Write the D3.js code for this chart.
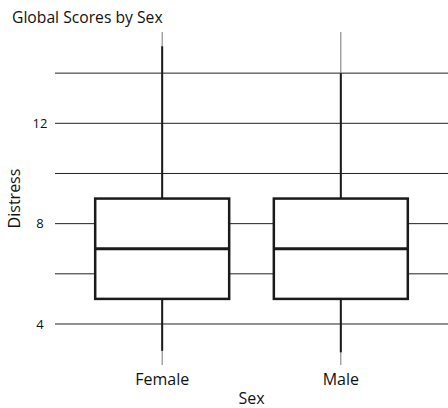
<!DOCTYPE html>
<html>
<head>
<meta charset="utf-8">
<script src="https://cdn.jsdelivr.net/npm/d3@7"></script>
<style>
  html, body { margin: 0; padding: 0; background: #fff; }
  svg { display: block; }
  text { font-family: "Open Sans", "Noto Sans", sans-serif; fill: #111; }
</style>
</head>
<body>
<svg id="chart" width="448" height="408"></svg>
<script>
// Distress scores by sex: five-number summaries for each group
const categories = ["Female", "Male"];
const whiskerLow  = [2.93, 2.87];
const quartile1   = [5, 5];
const medians     = [7, 7];
const quartile3   = [9, 9];
const whiskerHigh = [15.07, 14];
const yTicks      = [4, 8, 12];
const yGrid       = [4, 6, 8, 10, 12, 14];

const W = 448, H = 408;
const plot = { left: 55, right: 448, top: 32, bottom: 365 };

const svg = d3.select("#chart");

const x = d3.scalePoint()
  .domain(categories)
  .range([plot.left, plot.right])
  .padding(0.6);

const y = d3.scaleLinear()
  .domain([2.365, 15.64])
  .range([plot.bottom, plot.top]);

const boxW = x.step() * 0.75;

// horizontal grid lines
svg.append("g")
  .selectAll("line")
  .data(yGrid)
  .join("line")
  .attr("x1", plot.left)
  .attr("x2", plot.right)
  .attr("y1", d => y(d))
  .attr("y2", d => y(d))
  .attr("stroke", "#222")
  .attr("stroke-width", 1);

// vertical guide lines through each category
svg.append("g")
  .selectAll("line")
  .data(categories)
  .join("line")
  .attr("x1", d => x(d))
  .attr("x2", d => x(d))
  .attr("y1", plot.top)
  .attr("y2", plot.bottom)
  .attr("stroke", "#777")
  .attr("stroke-width", 1);

// y tick labels
svg.append("g")
  .selectAll("text")
  .data(yTicks)
  .join("text")
  .attr("x", 40)
  .attr("y", d => y(d))
  .attr("dy", "0.35em")
  .attr("text-anchor", "middle")
  .attr("font-size", 13)
  .text(d => d);

const rows = categories.map((c, i) => ({
  cat: c, lo: whiskerLow[i], q1: quartile1[i], med: medians[i],
  q3: quartile3[i], hi: whiskerHigh[i]
}));

const g = svg.append("g")
  .selectAll("g")
  .data(rows)
  .join("g");

// whiskers
g.append("line")
  .attr("x1", d => x(d.cat)).attr("x2", d => x(d.cat))
  .attr("y1", d => y(d.hi)).attr("y2", d => y(d.q3))
  .attr("stroke", "#1a1a1a").attr("stroke-width", 2);
g.append("line")
  .attr("x1", d => x(d.cat)).attr("x2", d => x(d.cat))
  .attr("y1", d => y(d.q1)).attr("y2", d => y(d.lo))
  .attr("stroke", "#1a1a1a").attr("stroke-width", 2);

// boxes
g.append("rect")
  .attr("x", d => x(d.cat) - boxW / 2)
  .attr("width", boxW)
  .attr("y", d => y(d.q3))
  .attr("height", d => y(d.q1) - y(d.q3))
  .attr("fill", "#fff")
  .attr("stroke", "#1a1a1a")
  .attr("stroke-width", 2.5);

// medians
g.append("line")
  .attr("x1", d => x(d.cat) - boxW / 2)
  .attr("x2", d => x(d.cat) + boxW / 2)
  .attr("y1", d => y(d.med)).attr("y2", d => y(d.med))
  .attr("stroke", "#1a1a1a").attr("stroke-width", 3.2);

// category labels
svg.append("g")
  .selectAll("text")
  .data(categories)
  .join("text")
  .attr("x", d => x(d))
  .attr("y", 385)
  .attr("text-anchor", "middle")
  .attr("font-size", 16)
  .text(d => d);

// axis titles
svg.append("text")
  .attr("x", (plot.left + plot.right) / 2)
  .attr("y", 404)
  .attr("text-anchor", "middle")
  .attr("font-size", 16)
  .text("Sex");

svg.append("text")
  .attr("transform", `translate(20,${(plot.top + plot.bottom) / 2}) rotate(-90)`)
  .attr("text-anchor", "middle")
  .attr("font-size", 16)
  .text("Distress");

// chart title
svg.append("text")
  .attr("x", 12)
  .attr("y", 23)
  .attr("font-size", 15.7)
  .text("Global Scores by Sex");
</script>
</body>
</html>
